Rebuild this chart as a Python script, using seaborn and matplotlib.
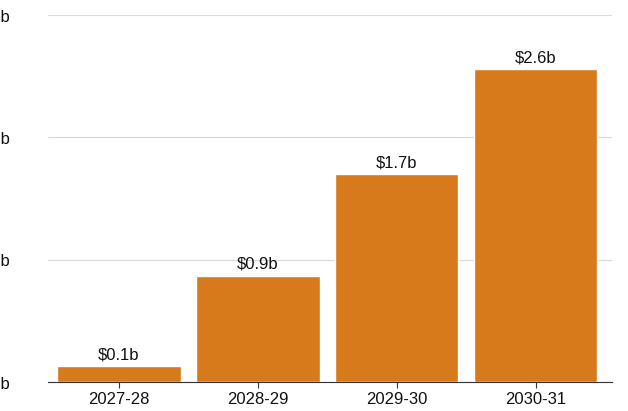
import matplotlib
matplotlib.use("Agg")
import matplotlib.pyplot as plt
import seaborn as sns
import pandas as pd

years = ["2027-28", "2028-29", "2029-30", "2030-31"]
values = [0.13, 0.87, 1.70, 2.56]
labels = [r"\$0.1b", r"\$0.9b", r"\$1.7b", r"\$2.6b"]
y_ticks = [0, 1, 2, 3]
y_tick_labels = [r"\$0b", r"\$1b", r"\$2b", r"\$3b"]

sns.set_theme(style="white")
plt.rcParams["font.family"] = ["Liberation Sans", "DejaVu Sans"]

df = pd.DataFrame({"year": years, "value": values})

fig = plt.figure(figsize=(6.28, 4.11), dpi=100)
ax = fig.add_axes([48 / 628, 29 / 411, (612 - 48) / 628, (382 - 15) / 411])

sns.barplot(data=df, x="year", y="value", color="#d67a1c", saturation=1,
            width=0.89, ax=ax, zorder=3)

for i, (v, lab) in enumerate(zip(values, labels)):
    ax.text(i, v + 0.03, lab, ha="center", va="bottom", fontsize=12, color="#111111")

ax.set_ylim(0, 3)
ax.set_xlim(-0.51, 3.55)
ax.set_yticks(y_ticks)
ax.set_yticklabels(y_tick_labels)
for t in ax.get_yticklabels():
    t.set_horizontalalignment("left")
ax.tick_params(axis="y", length=0, pad=47, labelsize=12, colors="#111111")
ax.tick_params(axis="x", length=4, width=0.8, color="#333333", labelsize=12,
               colors="#111111", bottom=True)
ax.yaxis.grid(True, color="#d9d9d9", linewidth=0.8, zorder=0)
ax.set_xlabel("")
ax.set_ylabel("")
for s in ["top", "right", "left"]:
    ax.spines[s].set_visible(False)
ax.spines["bottom"].set_color("#333333")
ax.spines["bottom"].set_linewidth(0.8)

fig.savefig("out.png", dpi=100)
